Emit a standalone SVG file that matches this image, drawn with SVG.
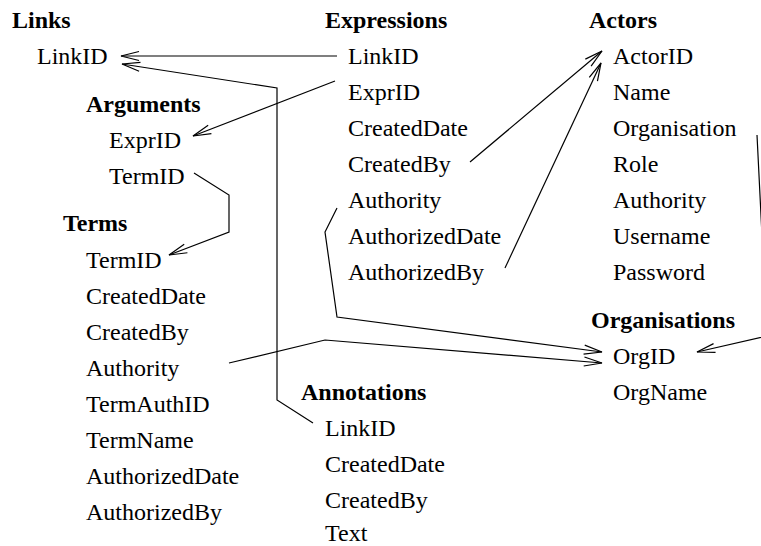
<svg xmlns="http://www.w3.org/2000/svg" width="761" height="546" viewBox="0 0 761 546">
<style>
text{font-family:"Liberation Serif","Times New Roman",serif;font-size:24px;fill:#000}
.t{font-weight:bold}
.c path{fill:none;stroke:#000;stroke-width:1.2}
</style>
<defs>
<marker id="a" markerUnits="userSpaceOnUse" markerWidth="22" markerHeight="12" viewBox="-20 -6 22 12" refX="0" refY="0" orient="auto" overflow="visible">
<path d="M-18,-4.5 L0,0 L-18,4.5" fill="none" stroke="#000" stroke-width="1.2"/>
</marker>
</defs>
<rect width="761" height="546" fill="#fff"/>
<g id="links">
<text class="t" x="12" y="28">Links</text>
<text x="37" y="64">LinkID</text>
</g>
<g id="arguments">
<text class="t" x="86" y="112">Arguments</text>
<text x="109" y="148">ExprID</text>
<text x="109" y="184">TermID</text>
</g>
<g id="terms">
<text class="t" x="63" y="231">Terms</text>
<text x="86" y="268">TermID</text>
<text x="86" y="304">CreatedDate</text>
<text x="86" y="340">CreatedBy</text>
<text x="86" y="376">Authority</text>
<text x="86" y="412">TermAuthID</text>
<text x="86" y="448">TermName</text>
<text x="86" y="484">AuthorizedDate</text>
<text x="86" y="520">AuthorizedBy</text>
</g>
<g id="expressions">
<text class="t" x="325" y="28">Expressions</text>
<text x="348" y="64">LinkID</text>
<text x="348" y="100">ExprID</text>
<text x="348" y="136">CreatedDate</text>
<text x="348" y="172">CreatedBy</text>
<text x="348" y="208">Authority</text>
<text x="348" y="244">AuthorizedDate</text>
<text x="348" y="280">AuthorizedBy</text>
</g>
<g id="annotations">
<text class="t" x="301" y="400">Annotations</text>
<text x="325" y="436">LinkID</text>
<text x="325" y="472">CreatedDate</text>
<text x="325" y="508">CreatedBy</text>
<text x="325" y="541">Text</text>
</g>
<g id="actors">
<text class="t" x="589" y="28">Actors</text>
<text x="613" y="64">ActorID</text>
<text x="613" y="100">Name</text>
<text x="613" y="136">Organisation</text>
<text x="613" y="172">Role</text>
<text x="613" y="208">Authority</text>
<text x="613" y="244">Username</text>
<text x="613" y="280">Password</text>
</g>
<g id="organisations">
<text class="t" x="591" y="328">Organisations</text>
<text x="613" y="364">OrgID</text>
<text x="613" y="400">OrgName</text>
</g>
<g id="connectors" class="c">
<path d="M337,56 L121,56" marker-end="url(#a)"/>
<path d="M313,423 L277,400 L277,88 L122,64" marker-end="url(#a)"/>
<path d="M335,81 L193,136" marker-end="url(#a)"/>
<path d="M194,173 L229,195 L229,232 L169,255" marker-end="url(#a)"/>
<path d="M470,162 L602,51" marker-end="url(#a)"/>
<path d="M505,268 L601,63" marker-end="url(#a)"/>
<path d="M337,208 L325,232 L337,317 L602,352" marker-end="url(#a)"/>
<path d="M229,363 L325,340 L602,363" marker-end="url(#a)"/>
<path d="M757,135 L767,336 L697,352" marker-end="url(#a)"/>
</g>
</svg>
